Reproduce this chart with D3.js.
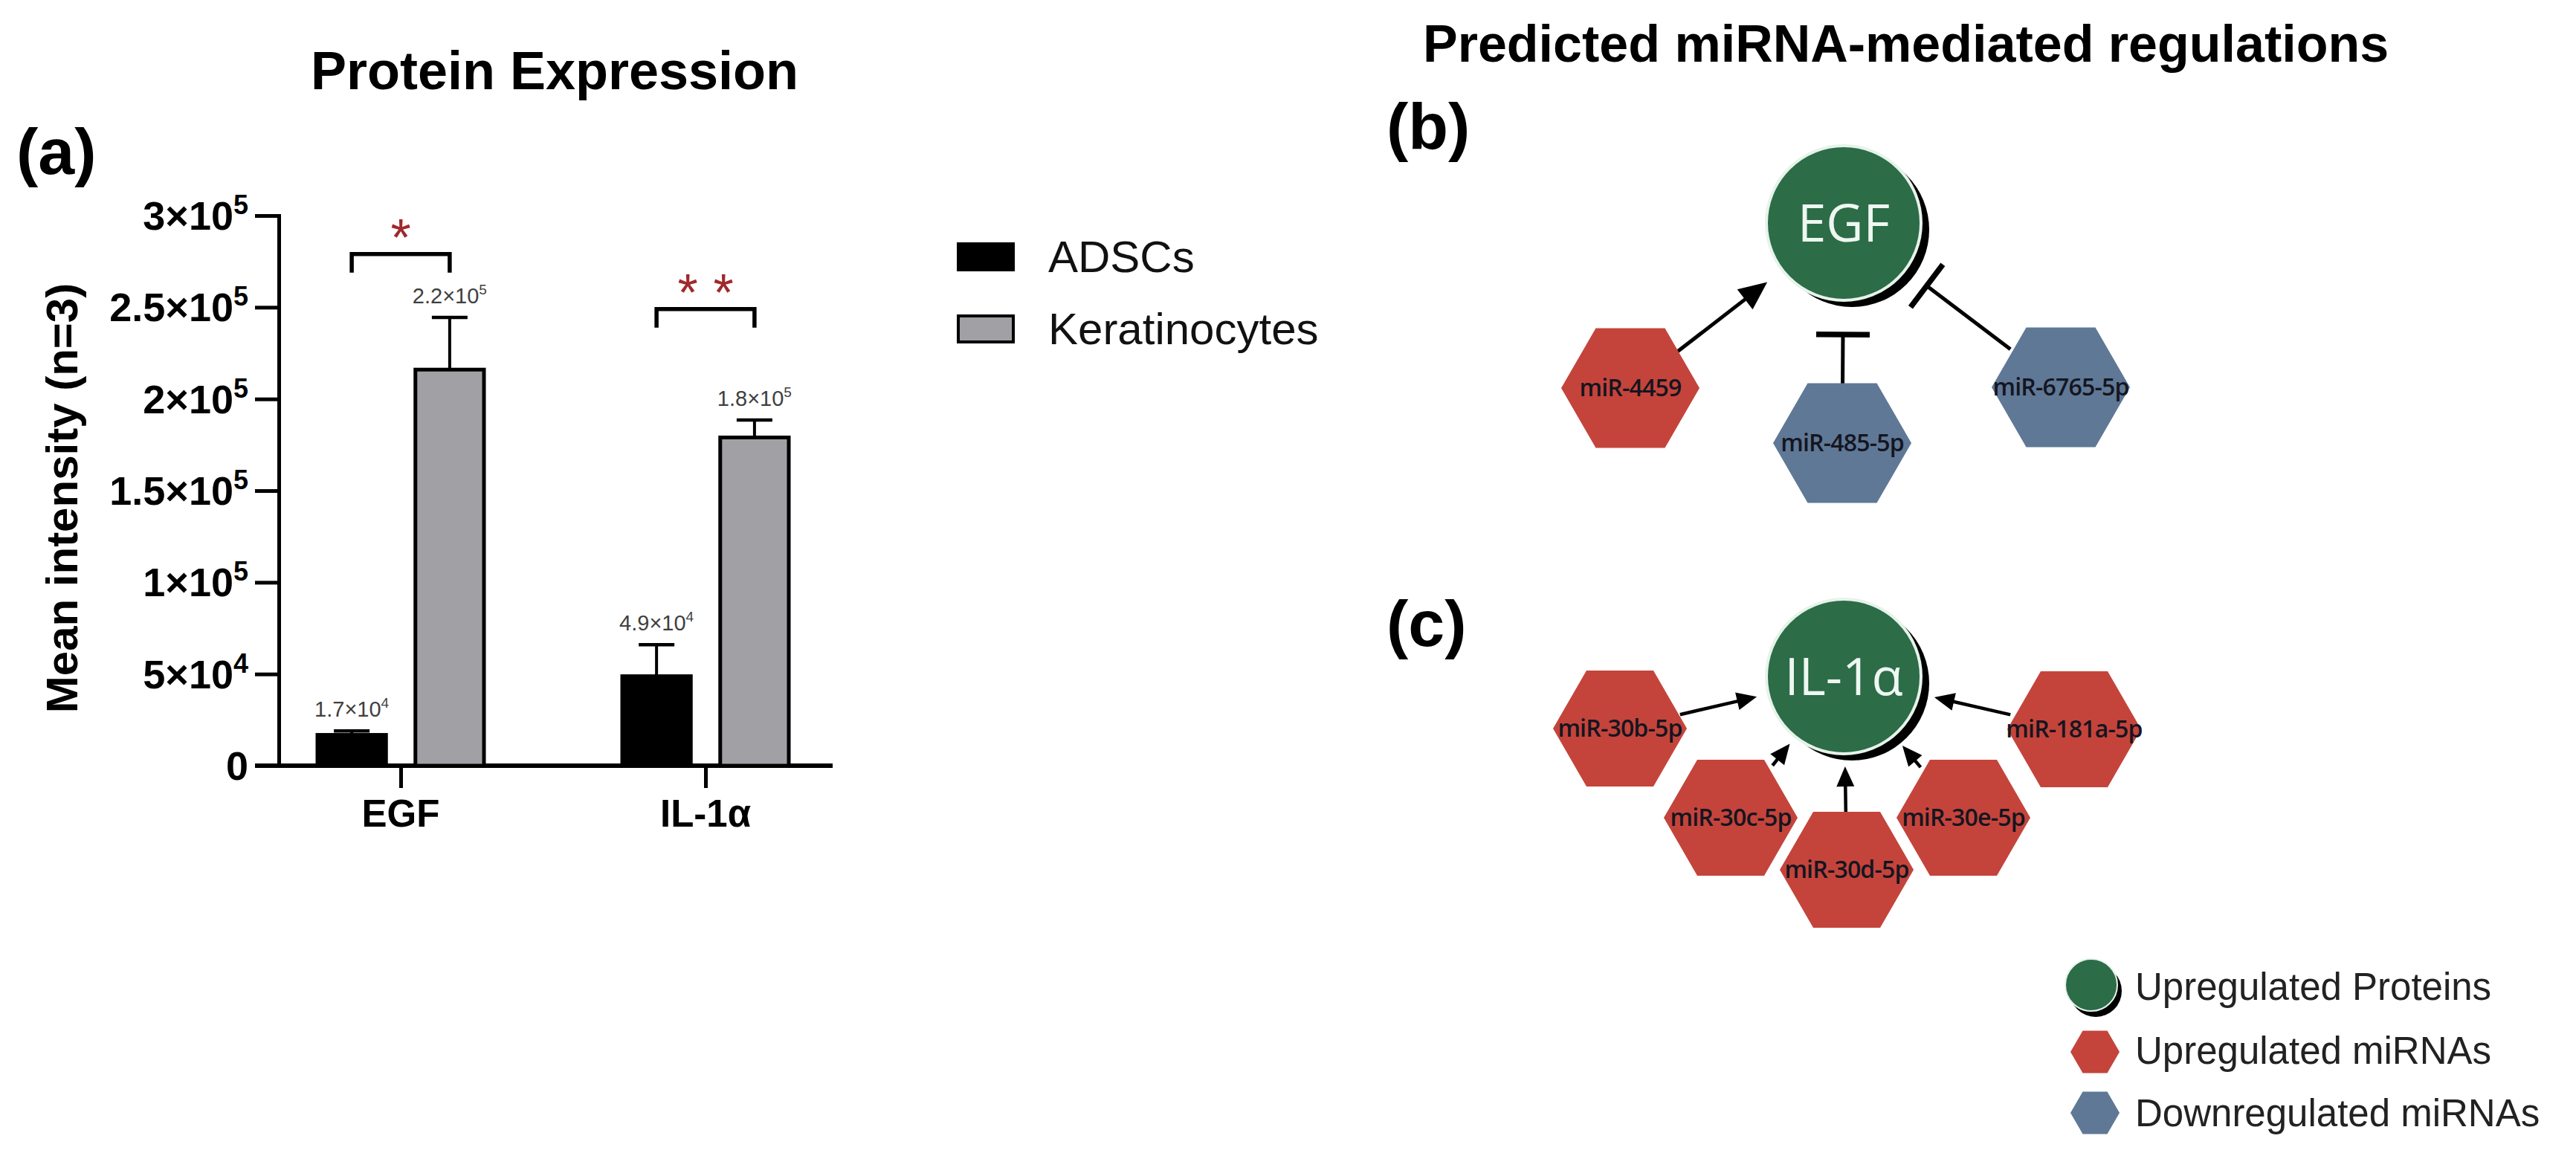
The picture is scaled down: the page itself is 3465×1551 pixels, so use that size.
<!DOCTYPE html>
<html><head><meta charset="utf-8">
<script src="https://cdn.jsdelivr.net/npm/d3@7"></script>
<style>html,body{margin:0;padding:0;background:#fff}svg{display:block}</style>
</head><body>
<svg id="fig" width="3465" height="1551"></svg>
<script>
// ---------------- DATA ----------------
const categories = ["EGF", "IL-1α"];
const seriesNames = ["ADSCs", "Keratinocytes"];
const adscMean = [16800, 48800];
const adscErr = [2200, 17200];
const kerMean = [216000, 179000];
const kerErr = [28500, 9500];
const adscLabelMant = ["1.7", "4.9"];
const adscLabelExp = ["4", "4"];
const kerLabelMant = ["2.2", "1.8"];
const kerLabelExp = ["5", "5"];
const tickValues = [0, 50000, 100000, 150000, 200000, 250000, 300000];
const tickMant = ["0", "5", "1", "1.5", "2", "2.5", "3"];
const tickExp = ["", "4", "5", "5", "5", "5", "5"];
const sigCategories = ["EGF", "IL-1α"];
const sigLevels = [279000, 249000];
const sigStars = [1, 2];

const proteins = ["EGF", "IL-1α"];
const mirnaNames = ["miR-4459", "miR-485-5p", "miR-6765-5p", "miR-30b-5p", "miR-30c-5p", "miR-30d-5p", "miR-30e-5p", "miR-181a-5p"];
const mirnaRegulation = ["up", "down", "down", "up", "up", "up", "up", "up"];
const mirnaTarget = ["EGF", "EGF", "EGF", "IL-1α", "IL-1α", "IL-1α", "IL-1α", "IL-1α"];
const mirnaEffect = ["activate", "inhibit", "inhibit", "activate", "activate", "activate", "activate", "activate"];
const legendLabels = ["Upregulated Proteins", "Upregulated miRNAs", "Downregulated miRNAs"];

// ---------------- LAYOUT (positions / styles) ----------------
const FONT = "'Liberation Sans', Arial, Helvetica, sans-serif";
const NFONT = "'Open Sans', 'Noto Sans', 'DejaVu Sans', sans-serif";
const colors = {ADSCs: "#000000", Keratinocytes: "#a0a0a5", green: "#2c6c47", up: "#c4443b", down: "#5f7896", star: "#a0292b"};
const nodePos = {
  "EGF": [2480, 300], "IL-1α": [2480, 910],
  "miR-4459": [2193, 522], "miR-485-5p": [2478, 596], "miR-6765-5p": [2772, 521],
  "miR-30b-5p": [2179, 980], "miR-181a-5p": [2790, 981], "miR-30c-5p": [2328, 1100],
  "miR-30d-5p": [2484, 1170], "miR-30e-5p": [2641, 1100]
};
const edgeTrim = {
  "miR-4459": [80, 130], "miR-485-5p": [78, 150], "miR-6765-5p": [85, 140],
  "miR-30b-5p": [83, 120], "miR-181a-5p": [88, 125], "miR-30c-5p": [90, 116],
  "miR-30d-5p": [77, 121], "miR-30e-5p": [89, 122]
};

const svg = d3.select("#fig");
svg.append("rect").attr("width", 3465).attr("height", 1551).attr("fill", "#fff");

// ---------------- PANEL (a) ----------------
const y = d3.scaleLinear().domain([0, 300000]).range([1030, 290]);
const x = d3.scalePoint().domain(categories).range([539, 949]);
const xs = d3.scaleBand().domain(seriesNames).range([-112, 112]).paddingInner(0.3);
const bw = xs.bandwidth();
const AX = 375;

const gA = svg.append("g");

gA.append("text").attr("x", 22).attr("y", 234).attr("font-family", FONT).attr("font-weight", 700)
  .attr("font-size", 88).text("(a)");
gA.append("text").attr("x", 746).attr("y", 120).attr("text-anchor", "middle").attr("font-family", FONT)
  .attr("font-weight", 700).attr("font-size", 72).text("Protein Expression");

// y axis
const yAxis = d3.axisLeft(y).tickValues(tickValues).tickSize(32).tickSizeOuter(0).tickFormat("");
const gy = gA.append("g").attr("transform", `translate(${AX},0)`).call(yAxis);
gy.select(".domain").attr("stroke", "#000").attr("stroke-width", 5).attr("stroke-linecap", "square");
gy.selectAll(".tick line").attr("stroke", "#000").attr("stroke-width", 5);

// y tick labels
const tl = gA.append("g").selectAll("text").data(tickValues).join("text")
  .attr("x", 334).attr("y", d => y(d) + 19).attr("text-anchor", "end")
  .attr("font-family", FONT).attr("font-weight", 700).attr("font-size", 54);
tl.each(function(d, i) {
  const t = d3.select(this);
  if (tickExp[i] === "") { t.text(tickMant[i]); return; }
  t.append("tspan").text(tickMant[i] + "×10");
  t.append("tspan").attr("font-size", 36).attr("dy", -21).text(tickExp[i]);
});

// y label
gA.append("text").attr("transform", "translate(104,670) rotate(-90)").attr("text-anchor", "middle")
  .attr("font-family", FONT).attr("font-weight", 700).attr("font-size", 60).text("Mean intensity (n=3)");

// x axis
gA.append("line").attr("x1", AX - 32).attr("x2", 1120).attr("y1", y(0)).attr("y2", y(0))
  .attr("stroke", "#000").attr("stroke-width", 6);
const xAxis = d3.axisBottom(x).tickSize(30).tickSizeOuter(0).tickFormat("");
const gx = gA.append("g").attr("transform", `translate(0,${y(0)})`).call(xAxis);
gx.select(".domain").remove();
gx.selectAll(".tick line").attr("stroke", "#000").attr("stroke-width", 5);
gA.append("g").selectAll("text").data(categories).join("text")
  .attr("x", d => x(d)).attr("y", 1112).attr("text-anchor", "middle").attr("font-family", FONT)
  .attr("font-weight", 700).attr("font-size", 51).text(d => d);

// bars
const rows = [];
categories.forEach((c, i) => {
  rows.push({cat: c, s: "ADSCs", v: adscMean[i], e: adscErr[i], m: adscLabelMant[i], p: adscLabelExp[i]});
  rows.push({cat: c, s: "Keratinocytes", v: kerMean[i], e: kerErr[i], m: kerLabelMant[i], p: kerLabelExp[i]});
});
const cx = d => x(d.cat) + xs(d.s) + bw / 2;

const eb = gA.append("g");
eb.selectAll("line.stem").data(rows).join("line").attr("class", "stem")
  .attr("x1", cx).attr("x2", cx).attr("y1", d => y(d.v)).attr("y2", d => y(d.v + d.e))
  .attr("stroke", "#000").attr("stroke-width", 4);
eb.selectAll("line.cap").data(rows).join("line").attr("class", "cap")
  .attr("x1", d => cx(d) - 24).attr("x2", d => cx(d) + 24).attr("y1", d => y(d.v + d.e)).attr("y2", d => y(d.v + d.e))
  .attr("stroke", "#000").attr("stroke-width", 4.5);

gA.append("g").selectAll("rect").data(rows).join("rect")
  .attr("x", d => x(d.cat) + xs(d.s)).attr("width", bw)
  .attr("y", d => y(d.v)).attr("height", d => y(0) - y(d.v))
  .attr("fill", d => colors[d.s]).attr("stroke", "#000").attr("stroke-width", 5);

// value labels
const vl = gA.append("g").selectAll("text").data(rows).join("text")
  .attr("x", cx).attr("y", d => y(d.v + d.e) - 19).attr("text-anchor", "middle")
  .attr("font-family", FONT).attr("font-size", 29).attr("fill", "#404040");
vl.each(function(d) {
  const t = d3.select(this);
  t.append("tspan").text(d.m + "×10");
  t.append("tspan").attr("font-size", 19).attr("dy", -12).text(d.p);
});

// significance brackets
sigCategories.forEach((c, i) => {
  const x1 = x(c) + xs("ADSCs") + bw / 2, x2 = x(c) + xs("Keratinocytes") + bw / 2;
  const yt = y(sigLevels[i]);
  gA.append("path").attr("d", `M${x1},${yt + 25}V${yt}H${x2}V${yt + 25}`)
    .attr("fill", "none").attr("stroke", "#000").attr("stroke-width", 5.5);
  for (let k = 0; k < sigStars[i]; k++) {
    gA.append("text").attr("x", (x1 + x2) / 2 + (k - (sigStars[i] - 1) / 2) * 48).attr("y", yt + 2)
      .attr("text-anchor", "middle").attr("font-family", FONT).attr("font-size", 70)
      .attr("fill", colors.star).text("*");
  }
});

// legend (a)
const lgA = gA.append("g");
seriesNames.forEach((s, i) => {
  lgA.append("rect").attr("x", 1289).attr("y", 328 + i * 97).attr("width", 74).attr("height", 35)
    .attr("fill", colors[s]).attr("stroke", "#000").attr("stroke-width", 4);
  lgA.append("text").attr("x", 1410).attr("y", 345 + i * 97 + 21).attr("font-family", FONT)
    .attr("font-size", 60).attr("fill", "#111").text(s);
});

// ---------------- PANELS (b) & (c) ----------------
const gB = svg.append("g");
gB.append("text").attr("x", 1914).attr("y", 83).attr("font-family", FONT).attr("font-weight", 700)
  .attr("font-size", 70).text("Predicted miRNA-mediated regulations");
gB.append("text").attr("x", 1865).attr("y", 200).attr("font-family", FONT).attr("font-weight", 700)
  .attr("font-size", 88).text("(b)");
gB.append("text").attr("x", 1865).attr("y", 869).attr("font-family", FONT).attr("font-weight", 700)
  .attr("font-size", 88).text("(c)");

const hexLine = d3.line().curve(d3.curveLinearClosed);
const hexPts = r => d3.range(6).map(i => [r * Math.cos(Math.PI / 3 * i), r * Math.sin(Math.PI / 3 * i)]);
const PR = 104;

// edges
const edges = mirnaNames.map((m, i) => ({src: m, tgt: mirnaTarget[i], eff: mirnaEffect[i], panel: mirnaTarget[i] === "EGF" ? "b" : "c"}));
const gE = gB.append("g");
edges.forEach(e => {
  const [sx, sy] = nodePos[e.src], [tx, ty] = nodePos[e.tgt];
  const dx = tx - sx, dy = ty - sy, L = Math.hypot(dx, dy), ux = dx / L, uy = dy / L;
  const [t0, t1] = edgeTrim[e.src];
  const ax = sx + ux * t0, ay = sy + uy * t0, bx = tx - ux * t1, by = ty - uy * t1;
  const lw = e.panel === "b" ? 5 : 4.5;
  if (e.eff === "activate") {
    const hl = e.panel === "b" ? 38 : 27, hw = e.panel === "b" ? 17 : 12;
    gE.append("line").attr("x1", ax).attr("y1", ay).attr("x2", bx - ux * hl * 0.8).attr("y2", by - uy * hl * 0.8)
      .attr("stroke", "#000").attr("stroke-width", lw);
    const bxx = bx - ux * hl, byy = by - uy * hl;
    gE.append("path").attr("d", `M${bx},${by}L${bxx - uy * hw},${byy + ux * hw}L${bxx + uy * hw},${byy - ux * hw}Z`)
      .attr("fill", "#000");
  } else {
    gE.append("line").attr("x1", ax).attr("y1", ay).attr("x2", bx).attr("y2", by)
      .attr("stroke", "#000").attr("stroke-width", lw);
    const hw = 36;
    gE.append("line").attr("x1", bx - uy * hw).attr("y1", by + ux * hw).attr("x2", bx + uy * hw).attr("y2", by - ux * hw)
      .attr("stroke", "#000").attr("stroke-width", 7.5);
  }
});

// protein nodes
proteins.forEach(p => {
  const [px, py] = nodePos[p];
  gB.append("circle").attr("cx", px + 11).attr("cy", py + 9).attr("r", PR).attr("fill", "#000");
  gB.append("circle").attr("cx", px).attr("cy", py).attr("r", PR).attr("fill", colors.green)
    .attr("stroke", "#e6f3ea").attr("stroke-width", 4);
  gB.append("text").attr("x", px).attr("y", py + 25).attr("text-anchor", "middle").attr("font-family", NFONT)
    .attr("font-size", 69).attr("fill", "#eef7f1").text(p);
});

// miRNA nodes
mirnaNames.forEach((m, i) => {
  const [mx, my] = nodePos[m];
  const r = mirnaTarget[i] === "EGF" ? 93 : 90;
  const g = gB.append("g").attr("transform", `translate(${mx},${my})`);
  g.append("path").attr("d", hexLine(hexPts(r))).attr("fill", colors[mirnaRegulation[i]]);
  g.append("text").attr("y", 11).attr("text-anchor", "middle").attr("font-family", NFONT)
    .attr("font-size", 32).attr("font-weight", 600).attr("letter-spacing", -0.8).attr("fill", "#15151f").text(m);
});

// legend (bottom right)
const lgB = gB.append("g");
lgB.append("circle").attr("cx", 2819).attr("cy", 1333).attr("r", 35).attr("fill", "#000");
lgB.append("circle").attr("cx", 2813).attr("cy", 1325).attr("r", 35).attr("fill", colors.green)
  .attr("stroke", "#e6f3ea").attr("stroke-width", 2);
lgB.append("path").attr("transform", "translate(2818,1415)").attr("d", hexLine(hexPts(33))).attr("fill", colors.up);
lgB.append("path").attr("transform", "translate(2818,1497)").attr("d", hexLine(hexPts(33))).attr("fill", colors.down);
const legY = [1327, 1413, 1497];
legendLabels.forEach((l, i) => {
  lgB.append("text").attr("x", 2872).attr("y", legY[i] + 18).attr("font-family", FONT).attr("font-size", 51)
    .attr("fill", "#222").text(l);
});
</script>
</body></html>
